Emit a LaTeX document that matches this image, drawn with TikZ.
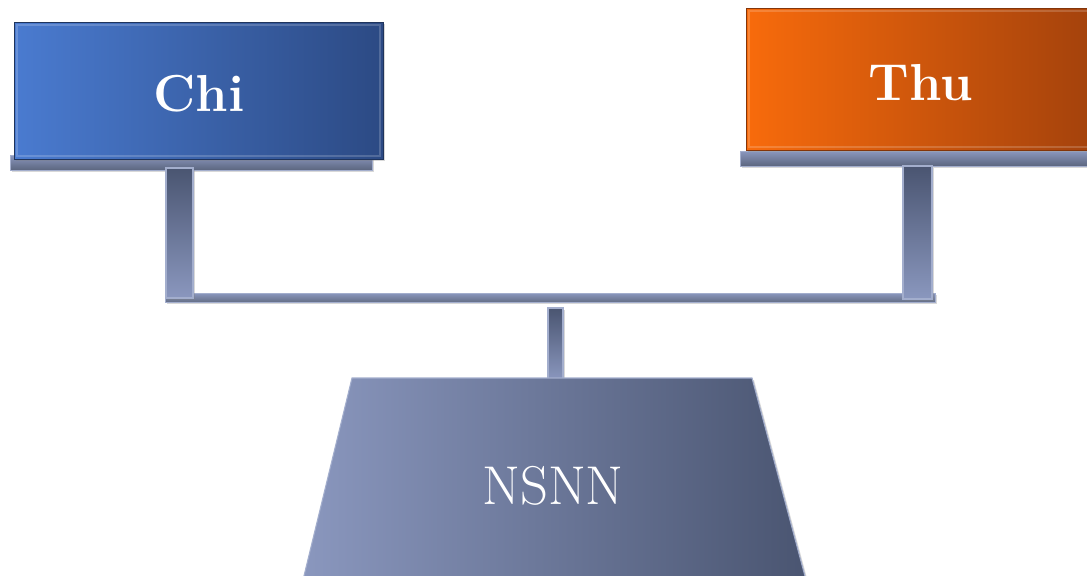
\documentclass[tikz,border=0pt]{standalone}
\usetikzlibrary{shadows}
\definecolor{blueL}{HTML}{4A7BD0}
\definecolor{blueR}{HTML}{2C4A84}
\definecolor{orangeL}{HTML}{F86B0C}
\definecolor{orangeR}{HTML}{A4420C}
\definecolor{steelL}{HTML}{8A97BE}
\definecolor{steelD}{HTML}{4A5571}
\definecolor{steelE}{HTML}{A3AECD}
\tikzset{
  shade/.style={drop shadow={opacity=0.3,shadow xshift=1.5pt,shadow yshift=-1.5pt}},
  bluebox/.style={shade,left color=blueL,right color=blueR,draw=blueR!70!black,line width=0.6pt},
  orangebox/.style={shade,left color=orangeL,right color=orangeR,draw=orangeR!80!black,line width=0.6pt},
  bevel/.style={draw=white,opacity=0.18,line width=2pt},
  tray/.style={shade,top color=steelL,bottom color=steelD!90,draw=steelE,line width=0.6pt},
  post/.style={shade,top color=steelD,bottom color=steelL,draw=steelE,line width=0.8pt},
  beam/.style={shade,top color=steelL,bottom color=steelD!85,draw=steelE,line width=0.6pt},
  basebox/.style={shade,left color=steelL,right color=steelD,draw=steelE,line width=0.8pt},
  boldlabel/.style={text=white,font=\fontsize{39}{47}\selectfont\bfseries},
  plainlabel/.style={text=white,font=\fontsize{41}{49}\selectfont},
}
\begin{document}
\begin{tikzpicture}[x=0.75pt,y=-0.75pt]
\useasboundingbox[fill=white] (0,0) rectangle (1087,575);
% left pan
\path[tray] (10,155) rectangle (372,170);
\path[bluebox] (14,22) rectangle (383,159);
\path[bevel] (17,25) rectangle (380,156);
\node[boldlabel] (chi) at (199,94) {Chi};
% right pan
\path[tray] (740,151) rectangle (1092,166);
\path[orangebox] (746,8) rectangle (1092,150);
\path[bevel] (749,11) rectangle (1095,147);
\node[boldlabel] (thu) at (921,83) {Thu};
% beam and posts
\path[beam] (165,293) rectangle (935,302);
\path[post] (166,168) rectangle (193,298);
\path[post] (903,166) rectangle (932,299);
\path[post] (548,308) rectangle (563,380);
% base
\path[basebox] (352,378) -- (752,378) -- (806,580) -- (303,580) -- cycle;
\node[plainlabel] (nsnn) at (553,486) {NSNN};
\end{tikzpicture}
\end{document}
